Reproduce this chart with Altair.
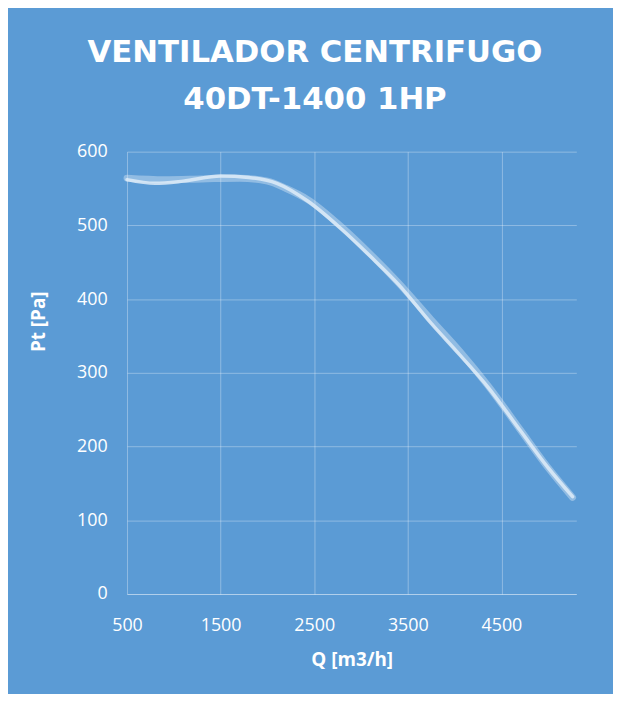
import altair as alt
import pandas as pd

# Series
q_a = [500, 800, 1100, 1500, 1800, 2100, 2430, 2800, 3100, 3400, 3750, 4050, 4360, 4700, 5000, 5260]
pt_a = [562, 557, 560, 567, 565, 557, 533, 494, 458, 420, 367, 325, 280, 222, 171, 132]

q_b = [500, 900, 1300, 1700, 2000, 2200, 2430, 2800, 3100, 3400, 3750, 4050, 4360, 4700, 5000, 5260]
pt_b = [564, 562, 563, 564, 560, 550, 535, 497, 461, 422, 372, 330, 282, 223, 171, 131]

x_ticks = [500, 1500, 2500, 3500, 4500]
y_ticks = [0, 100, 200, 300, 400, 500, 600]

title_lines = ["VENTILADOR CENTRIFUGO", "40DT-1400 1HP"]

df_a = pd.DataFrame({"Q": q_a, "Pt": pt_a})
df_b = pd.DataFrame({"Q": q_b, "Pt": pt_b})

FONT = "Open Sans"
GRID = "rgba(255,255,255,0.32)"

x_enc = alt.X(
    "Q:Q",
    scale=alt.Scale(domain=[500, 5300], nice=False, zero=False),
    axis=alt.Axis(
        values=x_ticks, format="d",
        title="Q [m3/h]",
        titleFont=FONT, titleFontSize=19, titleFontWeight="bold", titleColor="white",
        titleY=72, titleBaseline="alphabetic",
        labelFont=FONT, labelFontSize=18, labelColor="white", labelPadding=23,
        ticks=False, domain=True, domainColor=GRID, domainWidth=1,
        grid=True, gridColor=GRID, gridWidth=1,
        labelFlush=False,
    ),
)
y_enc = alt.Y(
    "Pt:Q",
    scale=alt.Scale(domain=[0, 600], nice=False),
    axis=alt.Axis(
        values=y_ticks, format="d",
        title="Pt [Pa]",
        titleFont=FONT, titleFontSize=19, titleFontWeight="bold", titleColor="white",
        titleX=-89, titleY=171, titleAngle=270, titleBaseline="middle", titleAlign="center",
        labelFont=FONT, labelFontSize=18, labelColor="white", labelPadding=20,
        ticks=False, domain=False,
        grid=True, gridColor=GRID, gridWidth=1,
    ),
)

line_b = alt.Chart(df_b).mark_line(
    interpolate="monotone", color="#e3eef8", strokeWidth=7, opacity=0.4, strokeCap="round"
).encode(x=x_enc, y=y_enc)

line_a = alt.Chart(df_a).mark_line(
    interpolate="monotone", color="#e4eff9", strokeWidth=3.5, opacity=0.8, strokeCap="round"
).encode(x=x_enc, y=y_enc)

chart = alt.layer(line_b, line_a).properties(
    width=453,
    height=446,
    autosize=alt.AutoSizeParams(type="none"),
    padding={"left": 120, "top": 142, "right": 37, "bottom": 98},
    title=alt.TitleParams(
        text=title_lines,
        font="DejaVu Sans", fontSize=31, fontWeight="bold", color="white",
        lineHeight=47, anchor="middle", dx=-37, offset=3, baseline="alphabetic",
    ),
).configure(background="#5B9BD5").configure_view(stroke=None)

chart.save("out.html", embed_options={"renderer": "svg", "actions": False})
